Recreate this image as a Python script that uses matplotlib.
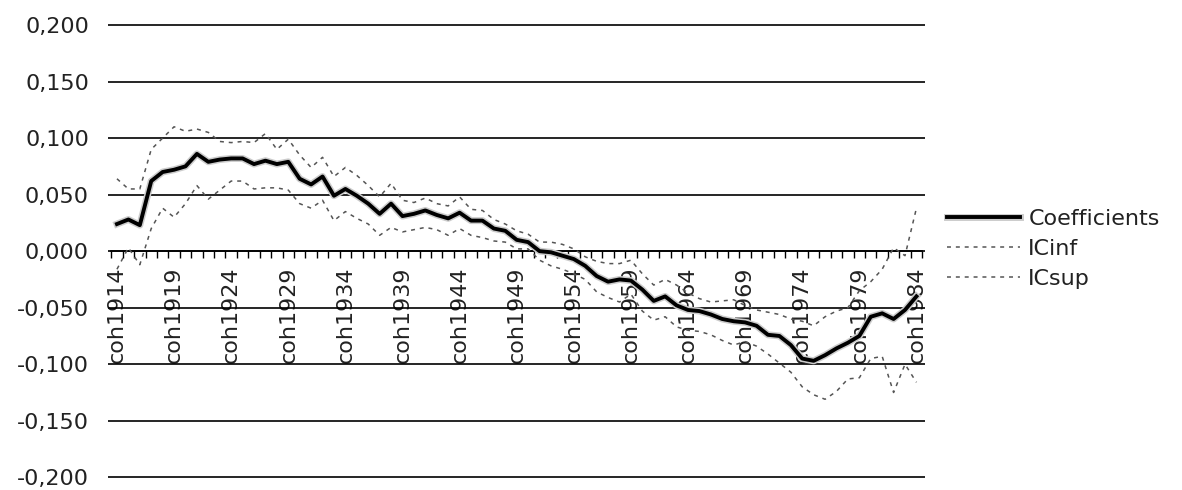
import numpy as np
import matplotlib
matplotlib.use("Agg")
import matplotlib.pyplot as plt
import matplotlib.patheffects as pe
from matplotlib.ticker import FixedLocator, FuncFormatter

# ---------------- data ----------------
cohorts = [f"coh{y}" for y in range(1914, 1985)]

coefficients = [0.024, 0.028, 0.023, 0.062, 0.070, 0.072, 0.075, 0.086, 0.079, 0.081, 0.082, 0.082,
                0.077, 0.080, 0.077, 0.079, 0.064, 0.059, 0.066, 0.049, 0.055, 0.049, 0.042, 0.033,
                0.042, 0.031, 0.033, 0.036, 0.032, 0.029, 0.034, 0.027, 0.027, 0.020, 0.018, 0.010,
                0.008, 0.000, -0.001, -0.004, -0.007, -0.013, -0.022, -0.027, -0.025, -0.026, -0.034, -0.044,
                -0.040, -0.048, -0.052, -0.053, -0.056, -0.060, -0.062, -0.063, -0.066, -0.074, -0.075, -0.083,
                -0.095, -0.097, -0.092, -0.086, -0.081, -0.075, -0.058, -0.055, -0.060, -0.052, -0.040]

icinf = [-0.016, 0.003, -0.012, 0.020, 0.038, 0.030, 0.042, 0.058, 0.046, 0.054, 0.062, 0.062,
         0.055, 0.056, 0.056, 0.054, 0.042, 0.038, 0.045, 0.027, 0.035, 0.029, 0.024, 0.014,
         0.021, 0.017, 0.019, 0.021, 0.019, 0.014, 0.020, 0.014, 0.012, 0.009, 0.008, 0.002,
         0.002, -0.008, -0.013, -0.016, -0.020, -0.025, -0.036, -0.041, -0.045, -0.038, -0.053, -0.061,
         -0.058, -0.067, -0.070, -0.071, -0.074, -0.079, -0.083, -0.080, -0.084, -0.091, -0.099, -0.107,
         -0.120, -0.127, -0.131, -0.124, -0.113, -0.112, -0.095, -0.093, -0.125, -0.100, -0.116]

icsup = [0.064, 0.055, 0.055, 0.090, 0.100, 0.110, 0.106, 0.108, 0.105, 0.097, 0.096, 0.097,
         0.096, 0.104, 0.090, 0.099, 0.085, 0.074, 0.083, 0.066, 0.074, 0.067, 0.058, 0.048,
         0.060, 0.045, 0.043, 0.047, 0.042, 0.040, 0.048, 0.037, 0.036, 0.028, 0.024, 0.018,
         0.015, 0.008, 0.008, 0.006, 0.002, -0.005, -0.009, -0.011, -0.011, -0.008, -0.020, -0.030,
         -0.025, -0.030, -0.037, -0.042, -0.045, -0.044, -0.043, -0.048, -0.052, -0.054, -0.056, -0.060,
         -0.062, -0.066, -0.058, -0.053, -0.050, -0.035, -0.027, -0.016, 0.003, -0.004, 0.038]

y_ticks = [-0.2, -0.15, -0.1, -0.05, 0.0, 0.05, 0.1, 0.15, 0.2]

# ---------------- figure ----------------
plt.rcParams['font.family'] = ['DejaVu Sans']
W, H = 1182, 490
fig = plt.figure(figsize=(W / 100, H / 100), dpi=100)
fig.patch.set_facecolor('white')

ax_left, ax_right = 108.4, 925.0
ax_top, ax_bot = 13.7, 488.6
ax = fig.add_axes([ax_left / W, 1 - ax_bot / H, (ax_right - ax_left) / W, (ax_bot - ax_top) / H])

x = np.arange(len(cohorts))
txt_color = '#222222'
fs = 16

ax.plot(x, icinf, color='#555555', lw=1.1, dashes=(2.6, 3.2), label='ICinf', zorder=3)
ax.plot(x, icsup, color='#555555', lw=1.1, dashes=(2.6, 3.2), label='ICsup', zorder=3)
ax.plot(x, coefficients, color='black', lw=2.8, solid_joinstyle='round', label='Coefficients',
        zorder=4, path_effects=[pe.Stroke(linewidth=5.0, foreground='#cccccc'), pe.Normal()])

ax.set_xlim(-0.75, 70.75)
ax.set_ylim(-0.21, 0.21)

# y axis
ax.set_yticks(y_ticks)
ax.yaxis.set_major_formatter(FuncFormatter(lambda v, p: f"{v:.3f}".replace('.', ',').replace('-0,000', '0,000')))
ax.tick_params(axis='y', length=0, pad=14, labelsize=fs, labelcolor=txt_color)
ax.yaxis.grid(True, color='black', lw=1.2, zorder=1)
ax.set_axisbelow(True)

# x axis at y = 0
for s in ['left', 'right', 'top']:
    ax.spines[s].set_visible(False)
ax.spines['bottom'].set_position(('data', 0))
ax.spines['bottom'].set_bounds(-0.5, 70.5)
ax.spines['bottom'].set_linewidth(1.2)
ax.xaxis.set_major_locator(FixedLocator(x[::5]))
ax.set_xticklabels(cohorts[::5], rotation=90)
ax.xaxis.set_minor_locator(FixedLocator(np.arange(-0.5, 71, 1.0)))
ax.tick_params(axis='x', which='major', length=0, pad=11, labelsize=fs, labelcolor=txt_color)
ax.tick_params(axis='x', which='minor', length=5, width=1.0, direction='out', color='black')

# legend
handles, labels = ax.get_legend_handles_labels()
order = [2, 0, 1]
leg = ax.legend([handles[i] for i in order], [labels[i] for i in order],
                loc='center left', bbox_to_anchor=(947 / W, 1 - 249 / H),
                bbox_transform=fig.transFigure, frameon=False, borderpad=0,
                borderaxespad=0, handlelength=3.3, handletextpad=0.36,
                labelspacing=0.45, fontsize=fs)
for t in leg.get_texts():
    t.set_color(txt_color)

fig.savefig('out.png', dpi=100, facecolor='white')
